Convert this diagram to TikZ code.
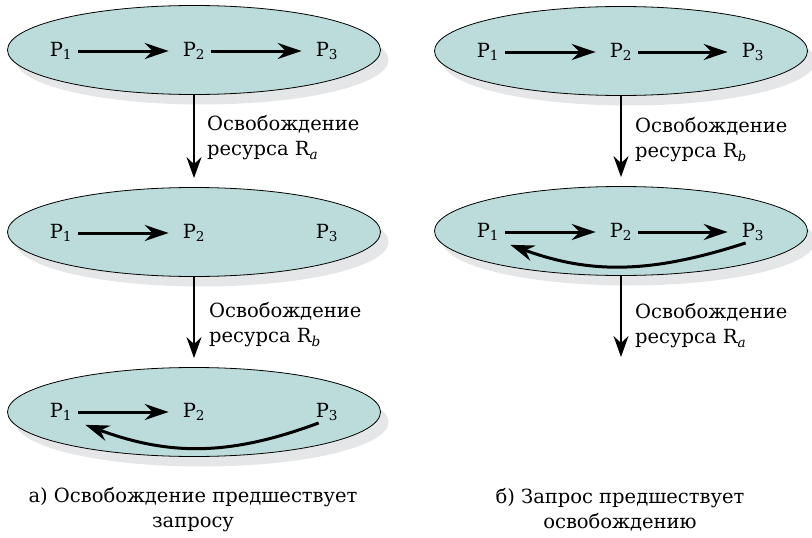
\documentclass[tikz,border=0pt]{standalone}
\usepackage{fontspec}
\setmainfont{DejaVu Serif}
\newfontfamily\diagfont{DejaVu Serif}
\usetikzlibrary{shapes.geometric,arrows.meta,positioning,shadows,calc}
\definecolor{stateteal}{RGB}{187,220,219}
\definecolor{shadowgray}{RGB}{229,230,231}

\begin{document}
\begin{tikzpicture}[
        x=1pt, y=-1pt,
        font=\diagfont\fontsize{19.5}{25}\selectfont,
        state/.style={ellipse, draw=black, line width=0.8pt, fill=stateteal,
            minimum width=373pt, minimum height=89pt, inner sep=0pt,
            drop shadow={shadow xshift=8pt, shadow yshift=-10pt, fill=shadowgray, opacity=1}},
        proc/.style={inner sep=2pt},
        parrow/.style={-{Stealth[length=24pt,width=16pt,inset=8pt]}, line width=3pt,
            shorten <=4pt, shorten >=12pt},
        varrow/.style={-{Stealth[length=21pt,width=15pt,inset=7pt]}, line width=2.2pt},
        note/.style={anchor=west, align=left, inner sep=0pt},
        caption/.style={align=center, inner sep=0pt}
    ]
        \useasboundingbox (0,0) rectangle (812,538);

        % a) release before request
        \node[state] (stateA1) at (194,50) {};
        \node[state] (stateA2) at (194,232) {};
        \node[state] (stateA3) at (194,412) {};

        \node[proc] (a1p1) at (61,51) {P\textsubscript{1}};
        \node[proc] (a1p2) at (194,51) {P\textsubscript{2}};
        \node[proc] (a1p3) at (327,51) {P\textsubscript{3}};
        \draw[parrow] (a1p1) -- (a1p2);
        \draw[parrow] (a1p2) -- (a1p3);

        \node[proc] (a2p1) at (61,233) {P\textsubscript{1}};
        \node[proc] (a2p2) at (194,233) {P\textsubscript{2}};
        \node[proc] (a2p3) at (327,233) {P\textsubscript{3}};
        \draw[parrow] (a2p1) -- (a2p2);

        \node[proc] (a3p1) at (61,412) {P\textsubscript{1}};
        \node[proc] (a3p2) at (194,412) {P\textsubscript{2}};
        \node[proc] (a3p3) at (327,412) {P\textsubscript{3}};
        \draw[parrow] (a3p1) -- (a3p2);
        \draw[parrow, shorten <=0pt, shorten >=0pt] ([xshift=5pt]a3p3.south west)
            .. controls (230,456) and (170,456) .. ([xshift=11pt,yshift=-2pt]a3p1.south east);

        \draw[varrow] (stateA1.south) -- ([yshift=9pt]stateA2.north);
        \node[note] (relA1) at (207,138) {Освобождение\\ресурса R\textsubscript{\itshape a}};
        \draw[varrow] (stateA2.south) -- ([yshift=9pt]stateA3.north);
        \node[note] (relA2) at (209,325) {Освобождение\\ресурса R\textsubscript{\itshape b}};

        % b) request before release
        \node[state] (stateB1) at (621,51) {};
        \node[state] (stateB2) at (621,231) {};

        \node[proc] (b1p1) at (488,52) {P\textsubscript{1}};
        \node[proc] (b1p2) at (621,52) {P\textsubscript{2}};
        \node[proc] (b1p3) at (753,52) {P\textsubscript{3}};
        \draw[parrow] (b1p1) -- (b1p2);
        \draw[parrow] (b1p2) -- (b1p3);

        \node[proc] (b2p1) at (488,232) {P\textsubscript{1}};
        \node[proc] (b2p2) at (621,232) {P\textsubscript{2}};
        \node[proc] (b2p3) at (753,232) {P\textsubscript{3}};
        \draw[parrow] (b2p1) -- (b2p2);
        \draw[parrow] (b2p2) -- (b2p3);
        \draw[parrow, shorten <=0pt, shorten >=0pt] ([xshift=6pt]b2p3.south west)
            .. controls (650,274) and (590,274) .. ([xshift=9pt,yshift=-2pt]b2p1.south east);

        \coordinate (endB) at (621,357);
        \draw[varrow] (stateB1.south) -- ([yshift=9pt]stateB2.north);
        \node[note] (relB1) at (635,140) {Освобождение\\ресурса R\textsubscript{\itshape b}};
        \draw[varrow] (stateB2.south) -- (endB);
        \node[note] (relB2) at (635,326) {Освобождение\\ресурса R\textsubscript{\itshape a}};

        % captions
        \node[caption] (capA) at (193,510) {а) Освобождение предшествует\\запросу};
        \node[caption] (capB) at (620,510) {б) Запрос предшествует\\освобождению};
    \end{tikzpicture}
\end{document}
